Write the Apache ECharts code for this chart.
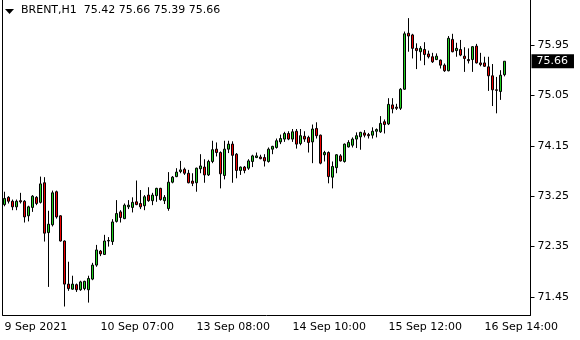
<!DOCTYPE html>
<html><head><meta charset="utf-8">
<script src="https://cdn.jsdelivr.net/npm/echarts@6/dist/echarts.min.js"></script>
<style>html,body{margin:0;padding:0;background:#fff}#c{width:580px;height:340px}</style>
</head><body><div id="c"></div>
<script>
const symbolName = 'BRENT,H1';
const opens = [73.10,73.23,73.16,73.06,73.17,73.16,72.90,73.05,73.23,73.14,
73.49,72.60,72.74,73.33,72.90,72.45,71.68,71.59,71.67,71.58,
71.60,71.58,71.77,72.02,72.27,72.21,72.45,72.44,72.80,72.97,
72.85,73.06,73.05,73.15,73.12,73.08,73.27,73.17,73.26,73.39,
73.17,73.03,73.50,73.60,73.69,73.73,73.66,73.52,73.49,73.74,
73.77,73.63,73.87,74.09,74.03,73.62,74.09,74.18,74.00,73.71,
73.77,73.75,73.87,73.94,73.95,73.94,73.87,74.09,74.12,74.22,
74.27,74.37,74.27,74.41,74.19,74.32,74.30,74.22,74.46,74.34,
73.99,74.03,73.59,73.76,73.97,73.87,74.13,74.16,74.27,74.31,
74.38,74.35,74.34,74.41,74.40,74.58,74.54,74.88,74.84,74.82,
75.16,76.16,76.13,75.89,75.83,75.87,75.79,75.74,75.69,75.68,
75.59,75.49,76.05,75.85,75.87,75.75,75.69,75.69,75.93,75.63,
75.63,75.56,75.40,75.15,75.12,75.42];
const highs = [73.33,73.25,73.19,73.19,73.31,73.18,73.08,73.27,73.25,73.60,
73.59,72.99,73.35,73.35,72.91,72.46,72.08,71.83,71.69,71.74,
71.74,71.83,72.06,72.38,72.29,72.56,72.52,72.84,73.18,73.00,
73.12,73.18,73.23,73.53,73.36,73.27,73.41,73.31,73.40,73.40,
73.27,73.68,73.61,73.75,73.88,73.76,73.72,73.66,73.76,74.00,
73.91,73.90,74.24,74.21,74.05,74.24,74.24,74.23,74.02,73.78,
73.79,73.91,73.99,74.03,73.99,74.00,74.12,74.15,74.28,74.35,
74.40,74.41,74.45,74.45,74.45,74.41,74.33,74.53,74.57,74.35,
74.06,74.05,73.87,74.00,74.00,74.19,74.25,74.30,74.39,74.40,
74.43,74.38,74.48,74.46,74.68,74.62,75.00,75.00,74.90,75.18,
76.19,76.43,76.15,75.98,75.93,76.00,75.85,75.81,75.80,75.69,
75.62,76.11,76.15,75.99,76.04,75.91,75.89,75.93,75.97,75.81,
75.74,75.74,75.61,75.38,75.50,75.66];
const lows = [73.07,73.12,73.00,73.00,73.12,72.78,72.80,72.97,73.09,73.12,
72.44,71.63,72.71,72.85,72.44,71.28,71.56,71.58,71.54,71.56,
71.57,71.35,71.75,71.99,72.18,72.20,72.35,72.38,72.78,72.78,
72.84,73.02,72.96,73.09,73.02,73.00,73.15,73.09,73.15,73.17,
73.11,72.99,73.48,73.59,73.66,73.63,73.48,73.43,73.33,73.66,
73.49,73.61,73.84,73.96,73.39,73.55,74.02,73.49,73.57,73.63,
73.66,73.72,73.77,73.93,73.91,73.78,73.85,74.00,74.10,74.18,
74.22,74.25,74.22,74.10,74.16,74.22,74.03,73.84,74.28,73.82,
73.87,73.48,73.39,73.66,73.87,73.85,74.12,74.12,74.11,74.08,
74.30,74.28,74.28,74.30,74.38,74.37,74.52,74.73,74.79,74.79,
75.15,75.83,75.71,75.52,75.67,75.59,75.71,75.63,75.68,75.53,
75.47,75.48,75.82,75.74,75.75,75.47,75.62,75.47,75.62,75.57,
75.56,75.13,74.86,74.73,74.97,75.39];
const closes = [73.21,73.16,73.06,73.16,73.15,72.88,73.06,73.25,73.12,73.47,
72.59,72.75,73.31,72.88,72.45,71.68,71.60,71.68,71.58,71.72,
71.73,71.78,72.02,72.29,72.22,72.45,72.46,72.79,72.94,72.87,
73.09,73.09,73.14,73.10,73.06,73.24,73.17,73.27,73.39,73.19,
73.23,73.50,73.59,73.68,73.72,73.66,73.49,73.48,73.75,73.79,
73.63,73.87,74.08,74.03,73.65,74.09,74.18,73.98,73.71,73.77,
73.71,73.88,73.97,73.97,73.92,73.88,74.09,74.14,74.24,74.28,
74.37,74.27,74.40,74.18,74.33,74.27,74.21,74.45,74.33,73.84,
74.03,73.60,73.78,73.99,73.88,74.18,74.21,74.27,74.33,74.39,
74.34,74.33,74.41,74.44,74.55,74.53,74.89,74.81,74.82,75.16,
76.15,76.11,75.89,75.85,75.89,75.78,75.74,75.65,75.75,75.59,
75.49,76.07,75.83,75.89,75.77,75.71,75.67,75.92,75.63,75.60,
75.57,75.40,75.15,75.14,75.41,75.66];
const tickIndex = [0,24,48,72,96,120];
const tickLabels = ['9 Sep 2021','10 Sep 07:00','13 Sep 08:00','14 Sep 10:00','15 Sep 12:00','16 Sep 14:00'];
const priceTicks = [71.45,72.35,73.25,74.15,75.05,75.95];
const emptySlots = 6;

const n = opens.length;
const categories = [];
for (let i = 0; i < n + emptySlots; i++) categories.push(String(i));
const candles = opens.map((o, i) => [o, closes[i], lows[i], highs[i]]);
const last = n - 1;
const font = 'DejaVu Sans';
const headerText = symbolName + '  ' + [opens[last], highs[last], lows[last], closes[last]].map(v => v.toFixed(2)).join(' ');

const chart = echarts.init(document.getElementById('c'), null, {renderer: 'canvas'});
chart.setOption({
  animation: false,
  backgroundColor: '#ffffff',
  title: {
    text: headerText, left: 21, top: 5, padding: 0,
    textStyle: {fontFamily: font, fontSize: 11, fontWeight: 'normal', color: '#000'}
  },
  graphic: [
    {type: 'polygon', shape: {points: [[5,9],[14,9],[9.5,14]]}, style: {fill: '#000'}},
    {type: 'line', shape: {x1: 2.5, y1: 0, x2: 2.5, y2: 315}, style: {stroke: '#000', lineWidth: 1}}
  ],
  grid: {left: 2.5, right: 49.5, top: 0, bottom: 25},
  xAxis: {
    type: 'category', data: categories, boundaryGap: true,
    axisLine: {lineStyle: {color: '#000', width: 1}},
    axisTick: {alignWithLabel: true, length: 4, interval: (i) => tickIndex.includes(i), lineStyle: {color: '#000'}},
    axisLabel: {
      interval: (i) => tickIndex.includes(i),
      formatter: (v, i) => { const k = tickIndex.indexOf(Number(v)); return k >= 0 ? tickLabels[k] : ''; },
      align: 'left', margin: 7, color: '#000', fontFamily: font, fontSize: 11
    },
    splitLine: {show: false}
  },
  yAxis: {
    type: 'value', position: 'right', scale: true,
    min: 71.1286, max: 76.7536,
    axisLine: {show: true, lineStyle: {color: '#000', width: 1}},
    axisTick: {show: true, length: 4, customValues: priceTicks, lineStyle: {color: '#000'}},
    axisLabel: {customValues: priceTicks, formatter: (v) => Number(v).toFixed(2), margin: 7, color: '#000', fontFamily: font, fontSize: 11},
    splitLine: {show: false}
  },
  series: [{
    type: 'candlestick',
    data: candles,
    barWidth: 2,
    itemStyle: {color: '#1fd01f', color0: '#f00000', borderColor: '#000', borderColor0: '#000', borderWidth: 1},
    markLine: {
      silent: true, symbol: 'none', animation: false,
      lineStyle: {color: 'rgba(0,0,0,0)', width: 1, type: 'solid'},
      label: {
        show: true, position: 'end', distance: 1, formatter: (p) => Number(p.value).toFixed(2),
        backgroundColor: '#000', color: '#fff', fontFamily: font, fontSize: 11, padding: [2, 6, 1, 5]
      },
      data: [{yAxis: closes[last]}]
    }
  }]
});
</script>
</body></html>
